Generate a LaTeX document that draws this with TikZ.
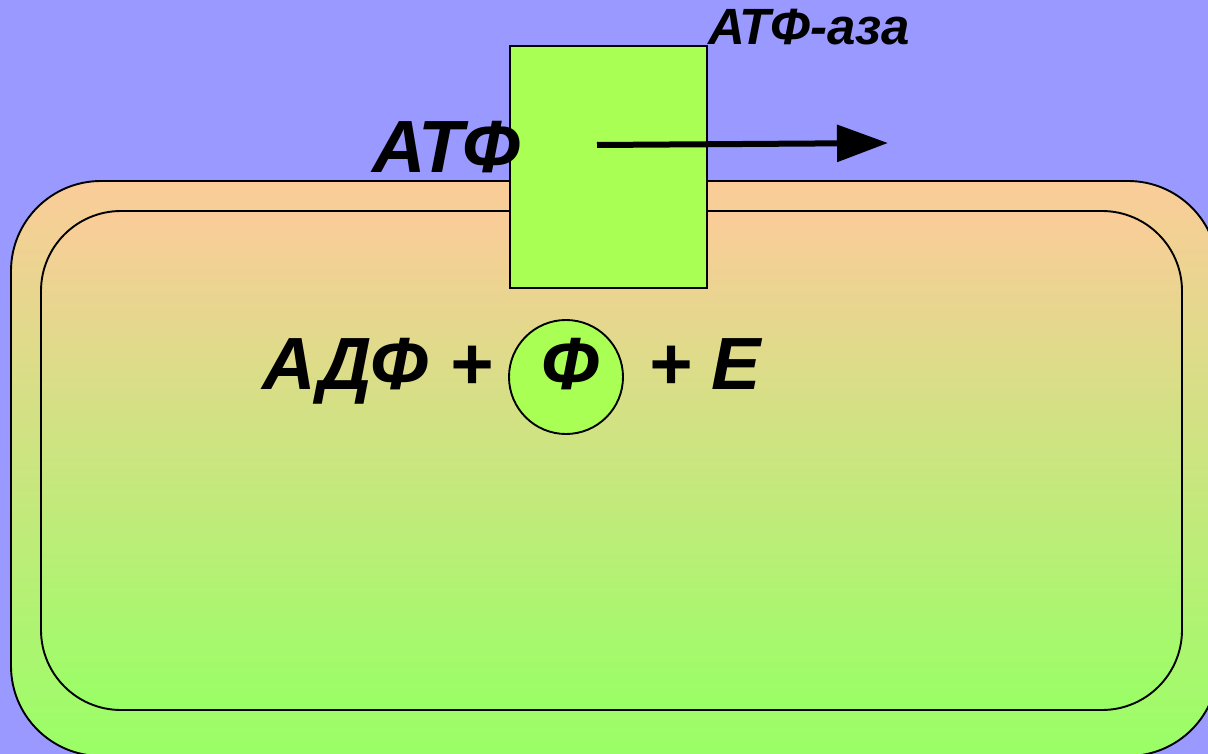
\documentclass[tikz,border=0pt]{standalone}
\usepackage{fontspec}
\setmainfont{Liberation Sans}
\usetikzlibrary{arrows.meta}
\definecolor{bgblue}{HTML}{9999FF}
\definecolor{peach}{HTML}{FBCC99}
\definecolor{lgreen}{HTML}{99FF66}
\definecolor{boxgreen}{HTML}{AAFF55}
\tikzset{
  cell/.style={draw=black, line width=1.9pt, top color=peach, bottom color=lgreen},
  enzyme/.style={draw=black, line width=1.9pt, fill=boxgreen},
  big/.style={font=\fontsize{74}{80}\selectfont\bfseries\itshape, inner sep=0pt, anchor=base west},
  small/.style={font=\fontsize{51}{56}\selectfont\bfseries\itshape, inner sep=0pt, anchor=base west},
}
\begin{document}
\begin{tikzpicture}[x=1pt,y=-1pt]
\useasboundingbox (0,0) rectangle (1208,754);
\clip (0,0) rectangle (1208,754);
\fill[bgblue] (0,0) rectangle (1208,754);
\path[cell, rounded corners=90pt] (11,181) rectangle (1218,756);
\path[cell, rounded corners=80pt] (41,211) rectangle (1182,710);
\node[enzyme, minimum width=197pt, minimum height=242pt, inner sep=0pt, anchor=north west] (box) at (509,45) {};
\node[big] (atf) at (372,173) {АТФ};
\node[small] (ataza) at (708,45) {АТФ-аза};
\coordinate (s) at (597,145);
\coordinate (t) at (888,143);
\draw[line width=6pt, -{Triangle[length=51pt,width=36pt]}] (s) -- (t);
\node[enzyme, circle, minimum size=114pt, inner sep=0pt] (phi) at (566,377) {};
\node[big] (adf) at (262,389) {АДФ +};
\node[big, anchor=base] (f) at (570,389) {Ф};
\node[big] (e) at (648,389) {+ Е};
\end{tikzpicture}
\end{document}
